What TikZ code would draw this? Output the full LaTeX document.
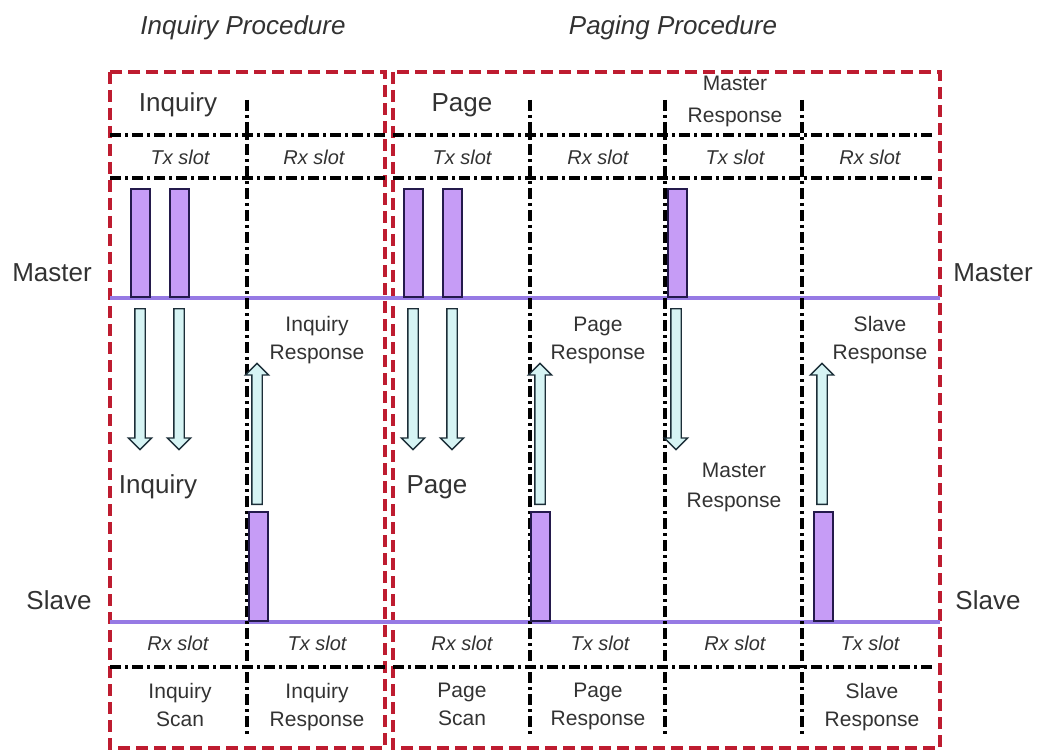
\documentclass[tikz,border=0pt]{standalone}
\usepackage{fontspec}
\setmainfont{Liberation Sans}
\usepackage{tikz}
\usetikzlibrary{shapes.arrows,positioning}
\definecolor{boxred}{RGB}{190,28,48}
\definecolor{textgray}{RGB}{50,50,50}
\definecolor{linepurple}{RGB}{150,122,228}
\definecolor{burstfill}{RGB}{198,156,246}
\definecolor{burstedge}{RGB}{36,26,76}
\definecolor{arrowfill}{RGB}{214,244,244}
\definecolor{arrowedge}{RGB}{28,46,56}

\begin{document}
\begin{tikzpicture}[
  x=1pt, y=-1pt,
  every node/.style={text=textgray, align=center, inner sep=0pt},
  titlelabel/.style={font=\fontsize{26}{30}\selectfont\itshape},
  biglabel/.style={font=\fontsize{26}{30}\selectfont},
  smalllabel/.style={font=\fontsize{21}{28}\selectfont},
  slotlabel/.style={font=\fontsize{20}{24}\selectfont\itshape},
  procbox/.style={draw=boxred, line width=3.2pt, dash pattern=on 12pt off 6pt},
  slotline/.style={draw=black, line width=3.2pt, dash pattern=on 11pt off 4pt on 3pt off 4pt},
  timeline/.style={draw=linepurple, line width=3.4pt},
  burst/.style={rectangle, fill=burstfill, draw=burstedge, line width=1.6pt, minimum width=19pt},
  sigarrow/.style={single arrow, fill=arrowfill, draw=arrowedge, line width=1.4pt, inner sep=4.5pt,
    single arrow head extend=6.5pt, minimum height=141pt}
]
\useasboundingbox (0,0) rectangle (1038,751);

% Titles
\node[titlelabel] (inqTitle) at (243, 28) {Inquiry Procedure};
\node[titlelabel] (pageTitle) at (673, 28) {Paging Procedure};

% Procedure boxes
\draw[procbox] (110, 72) rectangle (385, 748);
\draw[procbox] (393, 72) rectangle (940, 748);

% Master and slave time lines
\draw[timeline] (110, 298) -- (940, 298);
\draw[timeline] (110, 622) -- (940, 622);

% Slot separators
\draw[slotline] (110, 135) -- (385, 135);
\draw[slotline] (110, 178) -- (385, 178);
\draw[slotline] (110, 667) -- (385, 667);
\draw[slotline] (393, 135) -- (932, 135);
\draw[slotline] (393, 178) -- (932, 178);
\draw[slotline] (393, 667) -- (932, 667);
\foreach \xs in {247, 530, 665, 802}
  \draw[slotline] (\xs, 100) -- (\xs, 734);

% Master bursts
\node[burst, minimum height=108pt, anchor=south west] (mInq1) at (130, 298) {};
\node[burst, minimum height=108pt, anchor=south west] (mInq2) at (169, 298) {};
\node[burst, minimum height=108pt, anchor=south west] (mPage1) at (403, 298) {};
\node[burst, minimum height=108pt, anchor=south west] (mPage2) at (442, 298) {};
\node[burst, minimum height=108pt, anchor=south west] (mResp) at (667, 298) {};

% Slave bursts
\node[burst, minimum height=109pt, anchor=south west] (sInq) at (248, 622) {};
\node[burst, minimum height=109pt, anchor=south west] (sPage) at (530, 622) {};
\node[burst, minimum height=109pt, anchor=south west] (sResp) at (813, 622) {};

% Signals master -> slave
\node[sigarrow, rotate=-90, anchor=tail] (aInq1) at (140, 308) {};
\node[sigarrow, rotate=-90, anchor=tail] (aInq2) at (179, 308) {};
\node[sigarrow, rotate=-90, anchor=tail] (aPage1) at (413, 308) {};
\node[sigarrow, rotate=-90, anchor=tail] (aPage2) at (452, 308) {};
\node[sigarrow, rotate=-90, anchor=tail] (aMResp) at (676, 308) {};

% Signals slave -> master
\node[sigarrow, rotate=90, anchor=tail] (aInqResp) at (257, 505) {};
\node[sigarrow, rotate=90, anchor=tail] (aPageResp) at (540, 505) {};
\node[sigarrow, rotate=90, anchor=tail] (aSResp) at (822, 505) {};

% Side labels
\node[biglabel] (masterL) at (52, 273) {Master};
\node[biglabel] (masterR) at (993, 273) {Master};
\node[biglabel] (slaveL) at (59, 600) {Slave};
\node[biglabel] (slaveR) at (988, 600) {Slave};

% Top row
\node[biglabel] (inqTop) at (178, 105) {Inquiry};
\node[biglabel] (pageTop) at (462, 105) {Page};
\node[smalllabel, font=\fontsize{21}{32}\selectfont] (mRespTop) at (735, 101) {Master\\Response};

% Tx/Rx slots
\node[slotlabel] at (180, 157) {Tx slot};
\node[slotlabel] at (314, 157) {Rx slot};
\node[slotlabel] at (462, 157) {Tx slot};
\node[slotlabel] at (598, 157) {Rx slot};
\node[slotlabel] at (735, 157) {Tx slot};
\node[slotlabel] at (870, 157) {Rx slot};
\node[slotlabel] at (178, 643) {Rx slot};
\node[slotlabel] at (317, 643) {Tx slot};
\node[slotlabel] at (462, 643) {Rx slot};
\node[slotlabel] at (600, 643) {Tx slot};
\node[slotlabel] at (735, 643) {Rx slot};
\node[slotlabel] at (870, 643) {Tx slot};

% Signal labels
\node[smalllabel] (inqRespLbl) at (317, 340) {Inquiry\\Response};
\node[smalllabel] (pageRespLbl) at (598, 340) {Page\\Response};
\node[smalllabel] (sRespLbl) at (880, 340) {Slave\\Response};
\node[biglabel] (inqLbl) at (158, 487) {Inquiry};
\node[biglabel] (pageLbl) at (437, 487) {Page};
\node[smalllabel, font=\fontsize{21}{30}\selectfont] (mRespLbl) at (734, 487) {Master\\Response};

% Bottom row
\node[smalllabel, anchor=north] at (180, 683) {Inquiry\\Scan};
\node[smalllabel, anchor=north] at (317, 683) {Inquiry\\Response};
\node[smalllabel, anchor=north] at (462, 683) {Page\\Scan};
\node[smalllabel, anchor=north] at (598, 683) {Page\\Response};
\node[smalllabel, anchor=north] at (872, 683) {Slave\\Response};

\end{tikzpicture}
\end{document}
